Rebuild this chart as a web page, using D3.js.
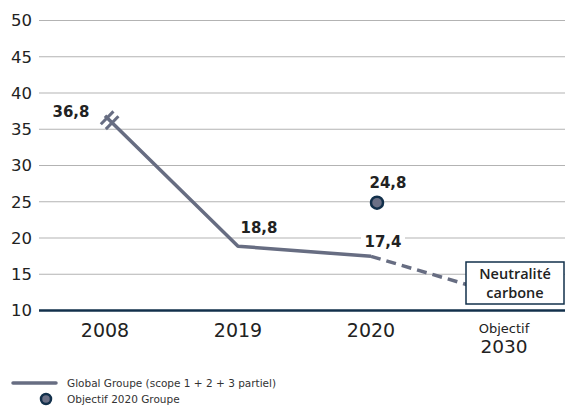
<!DOCTYPE html>
<html><head><meta charset="utf-8">
<script src="https://cdn.jsdelivr.net/npm/d3@7"></script>
<style>body{margin:0;background:#fff}svg{display:block}text{font-family:"DejaVu Sans",sans-serif}</style>
</head><body><svg id="c" width="565" height="411"></svg>
<script>
const categories = ["2008","2019","2020","2030"];
const actualValues = [36.8, 18.8, 17.4];
const projectionValues = [17.4, 12];
const targetValue = 24.8;
const yTicks = [10,15,20,25,30,35,40,45,50];
const valueLabels = ["36,8","18,8","17,4"];
const targetLabel = "24,8";

const svg = d3.select("#c");
const x = d3.scalePoint().domain(categories).range([105,504]);
const y = d3.scaleLinear().domain([10,50]).range([310,20]);
const lineCol = "#676d82", navy = "#12304b";

// grid
const yAxis = d3.axisLeft(y).tickValues(yTicks).tickSize(-526).tickPadding(7);
const ga = svg.append("g").attr("transform","translate(39,0)").call(yAxis);
ga.select(".domain").remove();
ga.selectAll(".tick line").attr("stroke","#b3b3b3").attr("stroke-width",1.2);
ga.selectAll(".tick text").attr("font-size",16.5).attr("fill","#222").attr("dy","0.35em");
ga.selectAll(".tick").filter(d=>d===10).select("line").attr("stroke",navy).attr("stroke-width",2.5);

// x labels
const gx = svg.append("g");
categories.forEach((c,i)=>{
  if(c==="2030"){
    gx.append("text").attr("x",x(c)).attr("y",333).attr("text-anchor","middle").attr("font-size",13).attr("fill","#222").text("Objectif");
    gx.append("text").attr("x",x(c)).attr("y",353).attr("text-anchor","middle").attr("font-size",18.5).attr("fill","#222").text(c);
  } else {
    gx.append("text").attr("x",x(c)).attr("y",337).attr("text-anchor","middle").attr("font-size",19).attr("fill","#222").text(c);
  }
});

// main line
const line = d3.line().x(d=>x(d[0])).y(d=>y(d[1]));
const actual = categories.slice(0,3).map((c,i)=>[c,actualValues[i]]);
svg.append("path").datum(actual).attr("d",line).attr("fill","none").attr("stroke",lineCol).attr("stroke-width",3.5).attr("stroke-linejoin","round");
const proj = [["2020",projectionValues[0]],["2030",projectionValues[1]]];
svg.append("path").datum(proj).attr("d",line).attr("fill","none").attr("stroke",lineCol).attr("stroke-width",3.5).attr("stroke-dasharray","10,6");

// break marks
const p0=[x("2008"),y(actualValues[0])], p1=[x("2019"),y(actualValues[1])];
const dx=p1[0]-p0[0], dy=p1[1]-p0[1], L=Math.hypot(dx,dy), ux=dx/L, uy=dy/L;
[3,10].forEach(t=>{
  const cx=p0[0]+ux*t, cy=p0[1]+uy*t;
  svg.append("line").attr("x1",cx+uy*9).attr("y1",cy-ux*9).attr("x2",cx-uy*9).attr("y2",cy+ux*9)
    .attr("stroke",lineCol).attr("stroke-width",3);
});

// value labels
const lbl = (tx,ty,t,bg)=>{
  if(bg){ svg.append("rect").attr("x",tx-22).attr("y",ty-15).attr("width",44).attr("height",19).attr("fill","#fff"); }
  svg.append("text").attr("x",tx).attr("y",ty).attr("text-anchor","middle").attr("font-size",15).attr("font-weight","bold").attr("fill","#222").text(t);
};
lbl(x("2008")-34, y(actualValues[0])+1, valueLabels[0]);
lbl(x("2019")+21, y(actualValues[1])-13, valueLabels[1]);
lbl(x("2020")+12, y(actualValues[2])-9, valueLabels[2], true);
lbl(x("2020")+17, y(targetValue)-15, targetLabel);

// target dot
svg.append("circle").attr("cx",x("2020")+6).attr("cy",y(targetValue)).attr("r",6).attr("fill","#6b7086").attr("stroke",navy).attr("stroke-width",2.5);

// neutralité box
svg.append("rect").attr("x",466).attr("y",262).attr("width",98).attr("height",42).attr("fill","#fff").attr("stroke",navy).attr("stroke-width",1.5);
const boxFont = "'Open Sans', 'DejaVu Sans', sans-serif";
svg.append("text").attr("x",515).attr("y",279).attr("text-anchor","middle").attr("font-size",14.5).attr("font-weight",600).style("font-family",boxFont).attr("fill","#222").text("Neutralité");
svg.append("text").attr("x",515).attr("y",298).attr("text-anchor","middle").attr("font-size",14.5).attr("font-weight",600).style("font-family",boxFont).attr("fill","#222").text("carbone");

// legend
svg.append("line").attr("x1",13).attr("x2",56).attr("y1",383).attr("y2",383).attr("stroke",lineCol).attr("stroke-width",3.5).attr("stroke-linecap","round");
svg.append("text").attr("x",67).attr("y",387).attr("font-size",10.5).attr("fill","#333").text("Global Groupe (scope 1 + 2 + 3 partiel)");
svg.append("circle").attr("cx",46).attr("cy",399).attr("r",5).attr("fill","#6b7086").attr("stroke",navy).attr("stroke-width",2.5);
svg.append("text").attr("x",67).attr("y",403).attr("font-size",10.5).attr("fill","#333").text("Objectif 2020 Groupe");
</script></body></html>
